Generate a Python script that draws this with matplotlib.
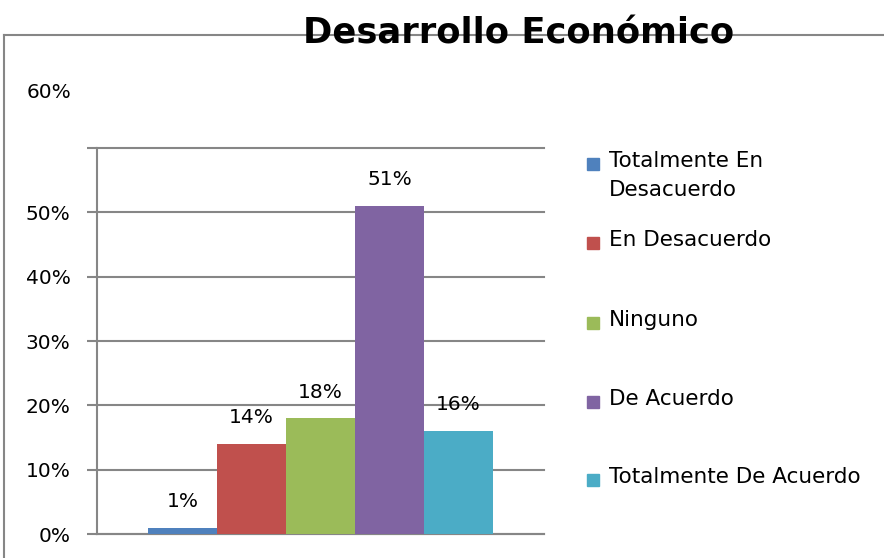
import matplotlib.pyplot as plt
from matplotlib.lines import Line2D
from matplotlib.patches import Rectangle

# data
categories = ["Totalmente En\nDesacuerdo", "En Desacuerdo", "Ninguno", "De Acuerdo", "Totalmente De Acuerdo"]
values = [0.01, 0.14, 0.18, 0.51, 0.16]
colors = ["#4F81BD", "#C0504D", "#9BBB59", "#8064A2", "#4BACC6"]
yticks = [0.0, 0.1, 0.2, 0.3, 0.4, 0.5, 0.6]
title = "Desarrollo Económico"

W, H = 884, 558
plt.rcParams['font.family'] = ['DejaVu Sans']
fig = plt.figure(figsize=(W / 100, H / 100), dpi=100)
ax = fig.add_axes([97 / W, 1 - 534 / H, (544 - 97) / W, (534 - 148) / H])

xs = list(range(len(values)))
bars = ax.bar(xs, values, width=1.0, color=colors, zorder=3)
ax.bar_label(bars, labels=["%d%%" % round(v * 100) for v in values], padding=12, fontsize=14.5, color="#000000")

ax.set_xlim(-1.24, 5.24)
ax.set_ylim(0, 0.6)
ax.set_xticks([])
ax.set_yticks(yticks)
ax.set_yticklabels(["%d%%" % round(t * 100) for t in yticks[:-1]] + [""], fontsize=14.5)
ax.tick_params(axis="y", length=7, width=1.5, color="#868686", pad=12)
ax.yaxis.grid(True, color="#868686", linewidth=1.5, zorder=0)
for gl in ax.get_ygridlines():
    gl.set_clip_on(False)
ax.set_axisbelow(True)
for s in ["top", "right"]:
    ax.spines[s].set_visible(False)
for s in ["left", "bottom"]:
    ax.spines[s].set_color("#868686")
    ax.spines[s].set_linewidth(1.5)

# misplaced 60% label as in the original
fig.text(71 / W, 1 - 93 / H, "60%", ha="right", va="center", fontsize=14.5)

# outer chart border (left and top visible)
fig.add_artist(Line2D([4 / W, 1.0], [1 - 35 / H, 1 - 35 / H], color="#868686", lw=1.5))
fig.add_artist(Line2D([4 / W, 4 / W], [0.0, 1 - 35 / H], color="#868686", lw=1.5))

fig.text(519 / W, 1 - 34 / H, title, ha="center", va="center", fontsize=25.5, fontweight="bold", zorder=5)

# legend
leg_y = [164, 243, 323, 402, 480]
for lab, c, y in zip(categories, colors, leg_y):
    fig.add_artist(Rectangle((587 / W, 1 - (y + 6) / H), 12 / W, 12 / H, color=c, transform=fig.transFigure))
    fig.text(609 / W, 1 - (y - 13) / H, lab, ha="left", va="top", fontsize=15.5, linespacing=1.55)

plt.savefig("out.png", dpi=100)
